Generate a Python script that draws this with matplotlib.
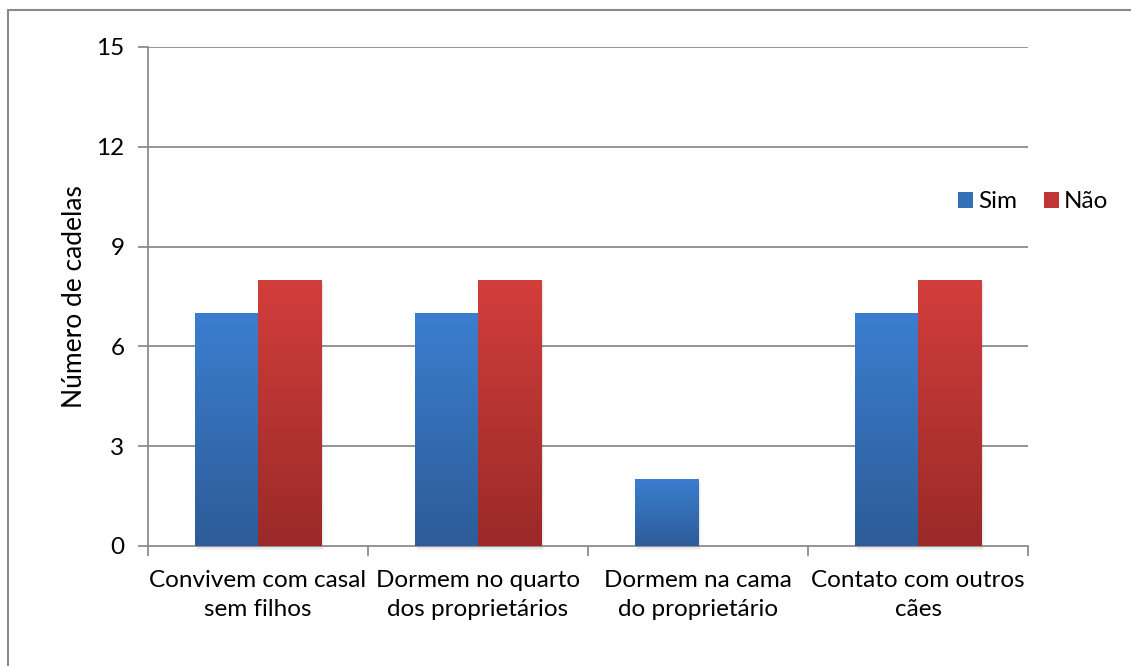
import numpy as np
import matplotlib
matplotlib.use("Agg")
import matplotlib.pyplot as plt
from matplotlib.colors import LinearSegmentedColormap
from matplotlib.patches import Rectangle, Patch

categories = ["Convivem com casal\nsem filhos", "Dormem no quarto\ndos proprietários",
              "Dormem na cama\ndo proprietário", "Contato com outros\ncães"]
sim = [7, 7, 2, 7]
nao = [8, 8, 0, 8]
series_names = ["Sim", "Não"]
y_ticks = [0, 3, 6, 9, 12, 15]

plt.rcParams["font.family"] = ["Lato", "DejaVu Sans"]
FS = 17.5

fig = plt.figure(figsize=(11.31, 6.66), dpi=100)
W, H = 1131, 666
ax = fig.add_axes([148 / W, 1 - 546 / H, 880 / W, 499 / H])

grid_col = "#8c8c8c"
ax.set_xlim(0, len(categories))
ax.set_ylim(0, 15)
ax.set_yticks(y_ticks)
ax.set_yticklabels([str(t) for t in y_ticks], fontsize=FS)
for t in y_ticks[1:]:
    ax.axhline(t, color=grid_col, lw=1.3, zorder=0)

x = np.arange(len(categories)) + 0.5
bw = 0.2875

blue_cmap = LinearSegmentedColormap.from_list("b", ["#2d5c98", "#3b7ecf"])
red_cmap = LinearSegmentedColormap.from_list("r", ["#9a2a28", "#d23e3c"])
grad = np.linspace(0, 1, 256).reshape(-1, 1)

def gradient_bars(xs, vals, cmap):
    bars = ax.bar(xs, vals, width=bw, color="none", edgecolor="none", zorder=3)
    for b in bars:
        h = b.get_height()
        if h <= 0:
            continue
        x0 = b.get_x()
        # soft drop shadow
        for k, a in enumerate([0.10, 0.06, 0.03]):
            ax.add_patch(Rectangle((x0 + 0.004 * (k + 1), -0.04 * (k + 1)), bw, h,
                                   facecolor="black", alpha=a, edgecolor="none",
                                   zorder=2, clip_on=False))
        im = ax.imshow(grad, cmap=cmap, aspect="auto", origin="lower",
                       extent=(x0, x0 + bw, 0, h), zorder=4, interpolation="bilinear")
        im.set_clip_path(b)
    return bars

gradient_bars(x - bw / 2, sim, blue_cmap)
gradient_bars(x + bw / 2, nao, red_cmap)
ax.set_xlim(0, len(categories))
ax.set_ylim(0, 15)

ax.set_xticks(np.arange(len(categories) + 1))
ax.set_xticklabels([])
ax.set_xticks(x, minor=True)
ax.set_xticklabels(categories, minor=True, fontsize=FS, linespacing=1.5)
ax.tick_params(axis="x", which="minor", length=0, pad=17)
ax.tick_params(axis="x", which="major", length=7, color=grid_col, width=1.3, direction="out")
ax.tick_params(axis="y", length=7, color=grid_col, width=1.3, direction="out", pad=10)

for s in ["top", "right"]:
    ax.spines[s].set_visible(False)
for s in ["left", "bottom"]:
    ax.spines[s].set_color(grid_col)
    ax.spines[s].set_linewidth(1.3)

ax.set_ylabel("Número de cadelas", fontsize=19)
ax.yaxis.set_label_coords((87 - 148) / 880, 0.5)

handles = [Patch(facecolor="#3470b8", label=series_names[0]),
           Patch(facecolor="#c03634", label=series_names[1])]
fig.legend(handles=handles, loc="center left", bbox_to_anchor=(958 / W, 1 - 202 / H),
           ncol=2, frameon=False, fontsize=FS, handlelength=0.62, handleheight=0.62,
           handletextpad=0.2, columnspacing=1.1, borderaxespad=0, borderpad=0)

# chart area border
fig.add_artist(Rectangle((8 / W, -0.1), 1.2, 1 - 10 / H + 0.1, transform=fig.transFigure,
                         facecolor="none", edgecolor="#8a8a8a", lw=1.5))

fig.savefig("out.png", dpi=100)
